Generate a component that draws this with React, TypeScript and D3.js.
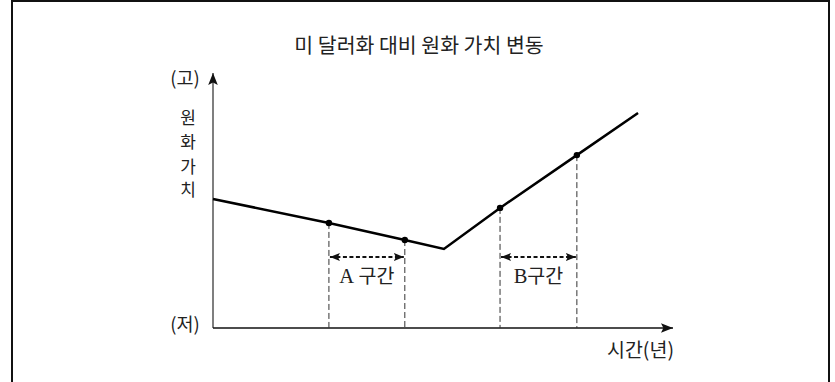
import React from 'react';
import * as d3 from 'd3';

// 시간(임의 단위)과 원화 가치(임의 단위)
const years = [0, 25.2, 41.7, 50.2, 62.4, 79.1, 92.4];
const wonValue = [50.6, 41.2, 34.5, 31, 47.1, 67.8, 84.3];
const markedIdx = [1, 2, 4, 5];
const sectionLabels = ['A 구간', 'B구간'];
const sectionStart = [25.2, 62.4];
const sectionEnd = [41.7, 79.1];
const yAxisWords = ['원', '화', '가', '치'];

const W = 835;
const H = 382;
const KR = '"Noto Sans CJK KR", "Noto Sans", sans-serif';
const SERIF = '"Liberation Serif", "DejaVu Serif", serif';

export default function App() {
  const x0 = 213, x1 = 673, yTop = 73, yBottom = 328;
  const x = d3.scaleLinear().domain([0, 100]).range([x0, x1]);
  const y = d3.scaleLinear().domain([0, 100]).range([yBottom, yTop]);

  const pts = years.map((t, i) => ({ t, v: wonValue[i] }));
  const line = d3.line<{ t: number; v: number }>()
    .x(d => x(d.t))
    .y(d => y(d.v));

  const arrowY = 257;
  const wordY = [124, 148, 173, 196];

  return (
    <svg width={W} height={H} style={{ position: 'absolute', left: 0, top: 0, background: '#fff' }}>
      <defs>
        <marker id="axisHead" viewBox="0 0 10 10" refX="10" refY="5" markerWidth="12" markerHeight="12" markerUnits="userSpaceOnUse" orient="auto">
          <path d="M0,1 L10,5 L0,9 L2,5 Z" fill="#111" />
        </marker>
        <marker id="dashHead" viewBox="0 0 10 10" refX="10" refY="5" markerWidth="10" markerHeight="10" markerUnits="userSpaceOnUse" orient="auto-start-reverse">
          <path d="M0,1 L10,5 L0,9 L2,5 Z" fill="#111" />
        </marker>
      </defs>

      {/* 테두리 */}
      <path d={`M12,${H} V1 H829 V${H}`} fill="none" stroke="#111" strokeWidth={2} />

      {/* 제목 */}
      <text x={419} y={53} textAnchor="middle" fontFamily={KR} fontSize={20.5} fill="#222">
        미 달러화 대비 원화 가치 변동
      </text>

      {/* 축 */}
      <line x1={x0} y1={yBottom} x2={x0} y2={yTop} stroke="#555" strokeWidth={1.5} markerEnd="url(#axisHead)" />
      <line x1={x0} y1={yBottom} x2={x1} y2={yBottom} stroke="#111" strokeWidth={1.5} markerEnd="url(#axisHead)" />

      <text x={185} y={85} textAnchor="middle" fontFamily={KR} fontSize={18.5} fill="#222">(고)</text>
      <text x={185} y={331} textAnchor="middle" fontFamily={KR} fontSize={18.5} fill="#222">(저)</text>
      {/* 세로 축 제목: 한 글자씩 세로로 */}
      <text textAnchor="middle" fontFamily={KR} fontSize={17} fill="#222">
        {yAxisWords.map((w, i) => (
          <tspan key={w} x={188} y={wordY[i]}>{w}</tspan>
        ))}
      </text>
      <text x={674} y={357} textAnchor="end" fontFamily={KR} fontSize={19.5} fill="#222">시간(년)</text>

      {/* 점선 */}
      {markedIdx.map(i => (
        <line key={i} x1={x(years[i])} x2={x(years[i])} y1={y(wonValue[i])} y2={yBottom}
          stroke="#333" strokeWidth={1} strokeDasharray="6,3" />
      ))}

      {/* 구간 화살표 */}
      {sectionLabels.map((lab, i) => {
        const a = x(sectionStart[i]);
        const b = x(sectionEnd[i]);
        return (
          <g key={lab}>
            <line x1={a + 1} x2={b - 1} y1={arrowY} y2={arrowY} stroke="#111" strokeWidth={2}
              strokeDasharray="4,2.5" markerStart="url(#dashHead)" markerEnd="url(#dashHead)" />
            <text x={(a + b) / 2} y={283} textAnchor="middle" fontSize={19.5} fill="#222">
              <tspan fontFamily={SERIF} fontSize={20.5}>{lab.charAt(0)}</tspan>
              <tspan fontFamily={KR}>{lab.slice(1)}</tspan>
            </text>
          </g>
        );
      })}

      {/* 원화 가치 선 */}
      <path d={line(pts) || ''} fill="none" stroke="#000" strokeWidth={2.5} strokeLinejoin="miter" />
      {markedIdx.map(i => (
        <circle key={i} cx={x(years[i])} cy={y(wonValue[i])} r={3.2} fill="#000" />
      ))}
    </svg>
  );
}
